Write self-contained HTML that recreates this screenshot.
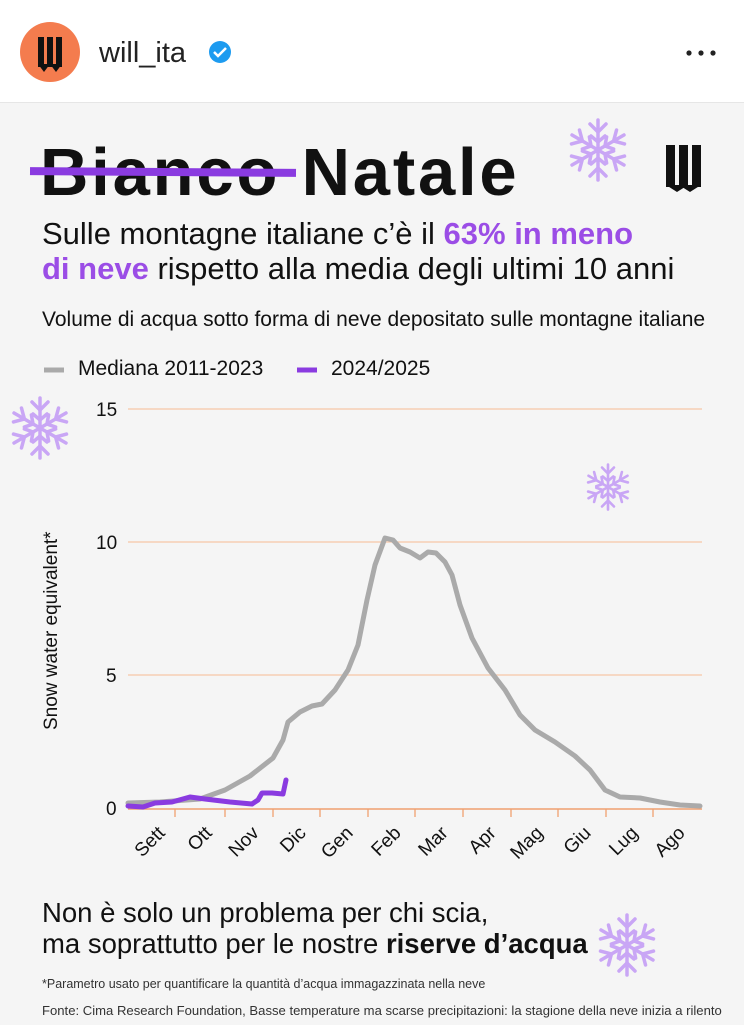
<!DOCTYPE html>
<html><head><meta charset="utf-8"><style>
body{margin:0;width:744px;height:1024px;overflow:hidden;background:#fff;font-family:"Liberation Sans",sans-serif;position:relative}
.card{position:absolute;left:0;top:102px;width:744px;height:922px;background:#f5f5f5;border-top:1px solid #e6e6e6}
.t{position:absolute;white-space:nowrap;color:#111}
</style></head><body>
<svg width="744" height="102" style="position:absolute;left:0;top:0">
<circle cx="50" cy="52" r="30" fill="#f47c4e"/>
<g fill="#111"><rect x="38" y="37" width="6" height="30"/><rect x="47" y="37" width="6" height="30"/><rect x="56" y="37" width="6" height="30"/><polygon points="38,64 50,64 44,72"/><polygon points="50,64 62,64 56,72"/></g>
<text x="99" y="62" font-size="29" font-family="Liberation Sans" fill="#222">will_ita</text>
<circle cx="220" cy="52" r="11" fill="#1d9bf0"/><path d="M214 52 l4 4 l8 -8" stroke="#fff" stroke-width="2.5" fill="none"/>
<circle cx="689" cy="53" r="2.6" fill="#222"/><circle cx="701" cy="53" r="2.6" fill="#222"/><circle cx="713" cy="53" r="2.6" fill="#222"/>
</svg>
<div class="card"></div>
<div class="t" style="left:40px;top:134px;font-size:67px;font-weight:bold;letter-spacing:2.8px">Bianco Natale</div>
<div style="position:absolute;left:30px;top:168px;width:266px;height:8px;background:#8a3be0;transform:rotate(0.4deg)"></div>
<svg width="744" height="1024" style="position:absolute;left:0;top:0">
<defs><g id="sf" stroke="#c9a6f5" stroke-width="3.5" fill="none" stroke-linecap="round">
<g id="arm"><line x1="0" y1="0" x2="0" y2="-30"/><polyline points="-8,-26 0,-18 8,-26"/><polyline points="-7,-14 0,-8 7,-14"/></g>
<use href="#arm" transform="rotate(60)"/><use href="#arm" transform="rotate(120)"/><use href="#arm" transform="rotate(180)"/><use href="#arm" transform="rotate(240)"/><use href="#arm" transform="rotate(300)"/></g></defs>
<use href="#sf" transform="translate(598,150)"/>
<use href="#sf" transform="translate(40,428)"/>
<use href="#sf" transform="translate(608,487) scale(0.75)"/>
<use href="#sf" transform="translate(627,945)"/>
<g fill="#111"><rect x="666" y="145" width="9" height="42"/><rect x="679" y="145" width="9" height="42"/><rect x="692" y="145" width="9" height="42"/><polygon points="666,185 688,185 677,192"/><polygon points="679,185 701,185 690,192"/></g>
<g stroke="#f6c6a8" stroke-width="1.3"><line x1="128" y1="409" x2="702" y2="409"/><line x1="128" y1="542" x2="702" y2="542"/><line x1="128" y1="675" x2="702" y2="675"/></g>
<line x1="128" y1="809" x2="702" y2="809" stroke="#f0a070" stroke-width="1.5"/>
<g stroke="#f0a070" stroke-width="1.3"><line x1="175" y1="809" x2="175" y2="817"/><line x1="225" y1="809" x2="225" y2="817"/><line x1="273" y1="809" x2="273" y2="817"/><line x1="320" y1="809" x2="320" y2="817"/><line x1="368" y1="809" x2="368" y2="817"/><line x1="415" y1="809" x2="415" y2="817"/><line x1="463" y1="809" x2="463" y2="817"/><line x1="511" y1="809" x2="511" y2="817"/><line x1="558" y1="809" x2="558" y2="817"/><line x1="606" y1="809" x2="606" y2="817"/><line x1="653" y1="809" x2="653" y2="817"/></g>
<g font-size="19" fill="#111" font-family="Liberation Sans"><text x="96" y="416">15</text><text x="96" y="549">10</text><text x="106" y="682">5</text><text x="106" y="815">0</text></g>
<text transform="translate(57,730) rotate(-90)" font-size="19" fill="#111" font-family="Liberation Sans">Snow water equivalent*</text>
<g font-size="19" fill="#111" font-family="Liberation Sans" text-anchor="end">
<text transform="translate(166,834) rotate(-45)">Sett</text><text transform="translate(213,834) rotate(-45)">Ott</text><text transform="translate(260,834) rotate(-45)">Nov</text><text transform="translate(307,834) rotate(-45)">Dic</text><text transform="translate(354,834) rotate(-45)">Gen</text><text transform="translate(402,834) rotate(-45)">Feb</text><text transform="translate(449,834) rotate(-45)">Mar</text><text transform="translate(497,834) rotate(-45)">Apr</text><text transform="translate(544,834) rotate(-45)">Mag</text><text transform="translate(592,834) rotate(-45)">Giu</text><text transform="translate(639,834) rotate(-45)">Lug</text><text transform="translate(686,834) rotate(-45)">Ago</text></g>
<path d="M128,803 L160,802 L200,799 L225,790 L250,776 L273,758 L283,740 L288,722 L300,712 L312,706 L322,704 L335,690 L348,670 L358,645 L367,600 L375,565 L385,538 L393,540 L400,548 L410,552 L420,558 L428,552 L436,553 L445,562 L452,575 L460,605 L472,638 L488,668 L505,690 L520,715 L535,730 L555,742 L575,756 L590,770 L605,790 L620,797 L640,798 L660,802 L680,805 L700,806" fill="none" stroke="#aaa" stroke-width="5" stroke-linejoin="round" stroke-linecap="round"/>
<path d="M128,806 L143,807 L155,803 L172,802 L190,797 L205,799 L230,802 L252,804 L258,800 L262,793 L272,793 L283,794 L286,780" fill="none" stroke="#8a3be0" stroke-width="5" stroke-linejoin="round" stroke-linecap="round"/>
<line x1="44" y1="370" x2="64" y2="370" stroke="#aaa" stroke-width="5"/>
<line x1="297" y1="370" x2="317" y2="370" stroke="#8a3be0" stroke-width="5"/>
</svg>
<div class="t" style="left:42px;top:216px;font-size:31px;line-height:35px">Sulle montagne italiane c’è il <b style="color:#9b4de6">63% in meno</b><br><b style="color:#9b4de6">di neve</b> rispetto alla media degli ultimi 10 anni</div>
<div class="t" style="left:42px;top:308px;font-size:21px;letter-spacing:0px">Volume di acqua sotto forma di neve depositato sulle montagne italiane</div>
<div class="t" style="left:78px;top:357px;font-size:21px">Mediana 2011-2023</div>
<div class="t" style="left:331px;top:357px;font-size:21px">2024/2025</div>
<div class="t" style="left:42px;top:897px;font-size:27.5px;line-height:31px">Non è solo un problema per chi scia,<br>ma soprattutto per le nostre <b>riserve d’acqua</b></div>
<div class="t" style="left:42px;top:977px;font-size:12.5px;color:#333">*Parametro usato per quantificare la quantità d’acqua immagazzinata nella neve</div>
<div class="t" style="left:42px;top:1003px;font-size:13.1px;color:#333">Fonte: Cima Research Foundation, Basse temperature ma scarse precipitazioni: la stagione della neve inizia a rilento</div>
</body></html>
